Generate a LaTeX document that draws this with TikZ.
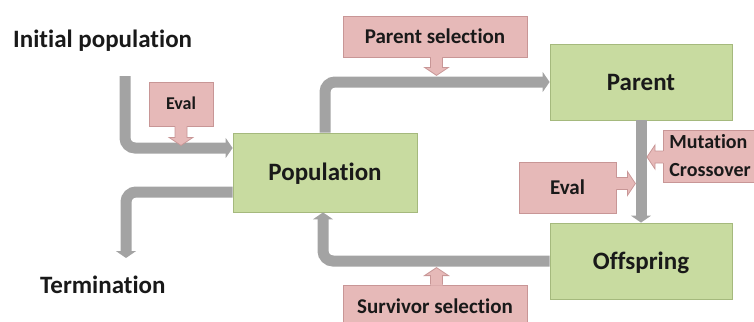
\documentclass[tikz,border=0pt]{standalone}
\usepackage{fontspec}
\setmainfont{Carlito}[Ligatures=NoCommon]
\usetikzlibrary{arrows.meta,calc}

\definecolor{boxgreen}{RGB}{200,219,160}
\definecolor{boxgreenline}{RGB}{165,185,125}
\definecolor{boxpink}{RGB}{230,185,184}
\definecolor{boxpinkline}{RGB}{200,150,150}
\definecolor{flowgray}{RGB}{163,163,163}
\definecolor{inktext}{RGB}{25,25,25}

\newcommand{\bigfont}{\fontsize{25}{30}\selectfont\bfseries}
\newcommand{\smallfont}{\fontsize{21}{28}\selectfont\bfseries}
\newcommand{\evalfont}{\fontsize{18}{22}\selectfont\bfseries}
\newcommand{\opfont}{\fontsize{20}{28}\selectfont\bfseries}

\tikzset{
  capcenter/.style={text height=#1, text depth=0pt},
  stage/.style={draw=boxgreenline, fill=boxgreen, line width=0.8pt,
    font=\bigfont, text=inktext, inner sep=0pt, capcenter=16pt},
  operator/.style={draw=boxpinkline, fill=boxpink, line width=0.8pt,
    font=\smallfont, text=inktext, inner sep=0pt},
  freetext/.style={font=\bigfont, text=inktext, inner sep=0pt},
  flow/.style={draw=flowgray, line width=11pt, rounded corners=10pt,
    -{Triangle[width=20pt,length=7pt]}},
  pinkfill/.style={fill=boxpink},
  pinkedge/.style={draw=boxpinkline, line width=0.8pt},
}

% block arrow leaving a box: #1 start point, #2 direction angle, #3 length
\newcommand{\blockarrow}[3]{%
  \path[pinkfill, shift={(#1)}, rotate=#2]
    (-1,-6) -- ({#3-8},-6) -- ({#3-8},-12) -- (#3,0) -- ({#3-8},12) -- ({#3-8},6) -- (-1,6) -- cycle;
  \path[pinkedge, shift={(#1)}, rotate=#2]
    (0,-6) -- ({#3-8},-6) -- ({#3-8},-12) -- (#3,0) -- ({#3-8},12) -- ({#3-8},6) -- (0,6);
}

\begin{document}
\begin{tikzpicture}[x=1pt,y=-1pt]
  \path[use as bounding box] (0,0) rectangle (754,321);
  \clip (0,0) rectangle (754,321);

  % main stages
  \node[stage, minimum width=184pt, minimum height=79pt] (pop) at (325,172.5) {Population};
  \node[stage, minimum width=182pt, minimum height=76pt] (par) at (641,82) {Parent};
  \node[stage, minimum width=182pt, minimum height=76pt] (off) at (641,261) {Offspring};

  % operators
  \node[operator, capcenter=13.5pt, minimum width=184pt, minimum height=41pt] (psel) at (435,36.5) {Parent selection};
  \node[operator, capcenter=13.5pt, minimum width=184pt, minimum height=44pt] (ssel) at (435,307) {Survivor selection};
  \node[operator, font=\evalfont, capcenter=11.5pt, minimum width=64pt, minimum height=44pt] (evalin) at (181,104) {Eval};
  \node[operator, capcenter=13.5pt, minimum width=97pt, minimum height=51pt] (evalout) at (567.5,187.5) {Eval};
  \node[operator, font=\opfont, anchor=west, align=left, text width=126pt, inner xsep=6pt,
        minimum height=52pt] (mut) at (663,156) {Mutation\\Crossover};

  % start and end labels
  \node[freetext, anchor=base west] (inittext) at (13,48) {Initial population};
  \node[freetext, anchor=base west] (termtext) at (40,293) {Termination};
  \coordinate (initstart) at (125,76);
  \coordinate (termend) at (126,258);

  % main flow
  \draw[flow] (initstart) |- ([yshift=24.5pt]pop.west);
  \draw[flow] (pop.north) |- (par.west);
  \draw[flow] (par.south) -- (off.north);
  \draw[flow] (off.west) -| ([xshift=-2pt]pop.south);
  \draw[flow] ([yshift=-19.5pt]pop.west) -| (termend);

  % operator arrows onto the flow
  \blockarrow{evalin.south}{-90}{19}
  \blockarrow{[xshift=1.5pt]psel.south}{-90}{18}
  \blockarrow{[xshift=1.5pt]ssel.north}{90}{17}
  \blockarrow{[yshift=4pt]evalout.east}{0}{19}
  \blockarrow{[yshift=-1pt]mut.west}{180}{16}
\end{tikzpicture}
\end{document}
